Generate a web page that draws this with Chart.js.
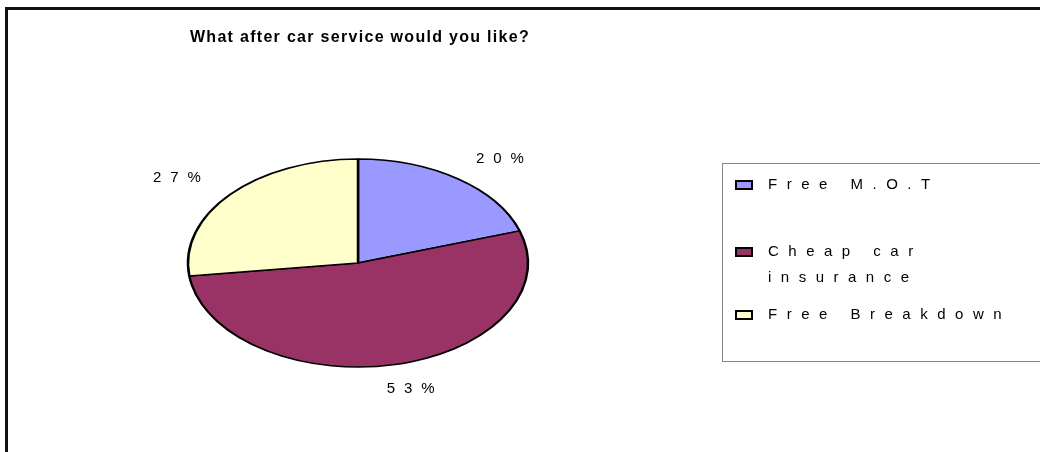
<!DOCTYPE html>
<html>
<head>
<meta charset="utf-8">
<style>
  html, body { margin: 0; padding: 0; background: #fff; }
  #wrap { width: 1040px; height: 452px; }
</style>
<script src="https://cdn.jsdelivr.net/npm/chart.js@4/dist/chart.umd.min.js"></script>
</head>
<body>
<div id="wrap"><canvas id="myChart" width="1040" height="452"></canvas></div>
<script>
const chartTitle = 'What after car service would you like?';
const categories = ['Free M.O.T', 'Cheap car insurance', 'Free Breakdown'];
const legendLines = [['Free M.O.T'], ['Cheap car', 'insurance'], ['Free Breakdown']];
const shares = [20, 53, 27];
const sliceColours = ['#9999ff', '#993366', '#ffffcc'];

const FONT = '"Liberation Sans", Arial, sans-serif';
const SQUASH = 104 / 170; // vertical scale that turns the pie into an ellipse

// white page, frame lines on the top and left
const framePlugin = {
    id: 'frame',
    beforeDraw(chart) {
        const ctx = chart.ctx;
        ctx.save();
        ctx.fillStyle = '#fff';
        ctx.fillRect(0, 0, chart.width, chart.height);
        ctx.fillStyle = '#111';
        ctx.fillRect(5, 7, chart.width - 5, 3);
        ctx.fillRect(5, 7, 3, chart.height - 7);
        ctx.restore();
    }
};

// flatten the pie around its centre
const ellipsePlugin = {
    id: 'ellipse',
    beforeDatasetsDraw(chart) {
        const arc = chart.getDatasetMeta(0).data[0];
        const ctx = chart.ctx;
        ctx.save();
        ctx.translate(arc.x, arc.y);
        ctx.scale(1, SQUASH);
        ctx.translate(-arc.x, -arc.y);
    },
    afterDatasetsDraw(chart) {
        chart.ctx.restore();
    }
};

// title, percentage labels and the boxed legend
const textPlugin = {
    id: 'texts',
    afterDraw(chart) {
        const ctx = chart.ctx;
        ctx.save();
        ctx.fillStyle = '#000';
        ctx.textBaseline = 'middle';

        ctx.font = 'bold 16px ' + FONT;
        ctx.letterSpacing = '1.3px';
        ctx.textAlign = 'center';
        ctx.fillText(chartTitle, 360, 38);

        ctx.font = '15px ' + FONT;
        ctx.letterSpacing = '9px';
        chart.getDatasetMeta(0).data.forEach((arc, i) => {
            const mid = (arc.startAngle + arc.endAngle) / 2;
            const r = arc.outerRadius;
            const x = arc.x + Math.cos(mid) * r * 1.42;
            const y = arc.y + Math.sin(mid) * r * SQUASH * 1.24;
            ctx.fillText(shares[i] + '%', x + 4.5, y);
        });

        // legend box
        ctx.strokeStyle = '#888';
        ctx.lineWidth = 1;
        ctx.strokeRect(722.5, 163.5, 400, 198);
        ctx.textAlign = 'left';
        ctx.letterSpacing = '9.5px';
        const rows = [185, 252, 315];
        legendLines.forEach((lines, i) => {
            ctx.fillStyle = sliceColours[i];
            ctx.fillRect(736, rows[i] - 4, 16, 8);
            ctx.strokeStyle = '#000';
            ctx.lineWidth = 2;
            ctx.strokeRect(736, rows[i] - 4, 16, 8);
            ctx.fillStyle = '#000';
            lines.forEach((t, j) => ctx.fillText(t, 768, rows[i] + j * 26));
        });
        ctx.restore();
    }
};

const data = {
    labels: categories,
    datasets: [{
        data: shares,
        backgroundColor: sliceColours,
        borderColor: '#000',
        borderWidth: 2.5,
        radius: 170
    }]
};

const config = {
    type: 'pie',
    data: data,
    options: {
        responsive: false,
        animation: false,
        layout: { padding: { left: 10, right: 334, top: 84, bottom: 10 } },
        plugins: {
            legend: { display: false },
            title: { display: false },
            tooltip: { enabled: false }
        }
    },
    plugins: [framePlugin, ellipsePlugin, textPlugin]
};

const myChart = new Chart(document.getElementById('myChart'), config);
</script>
</body>
</html>
